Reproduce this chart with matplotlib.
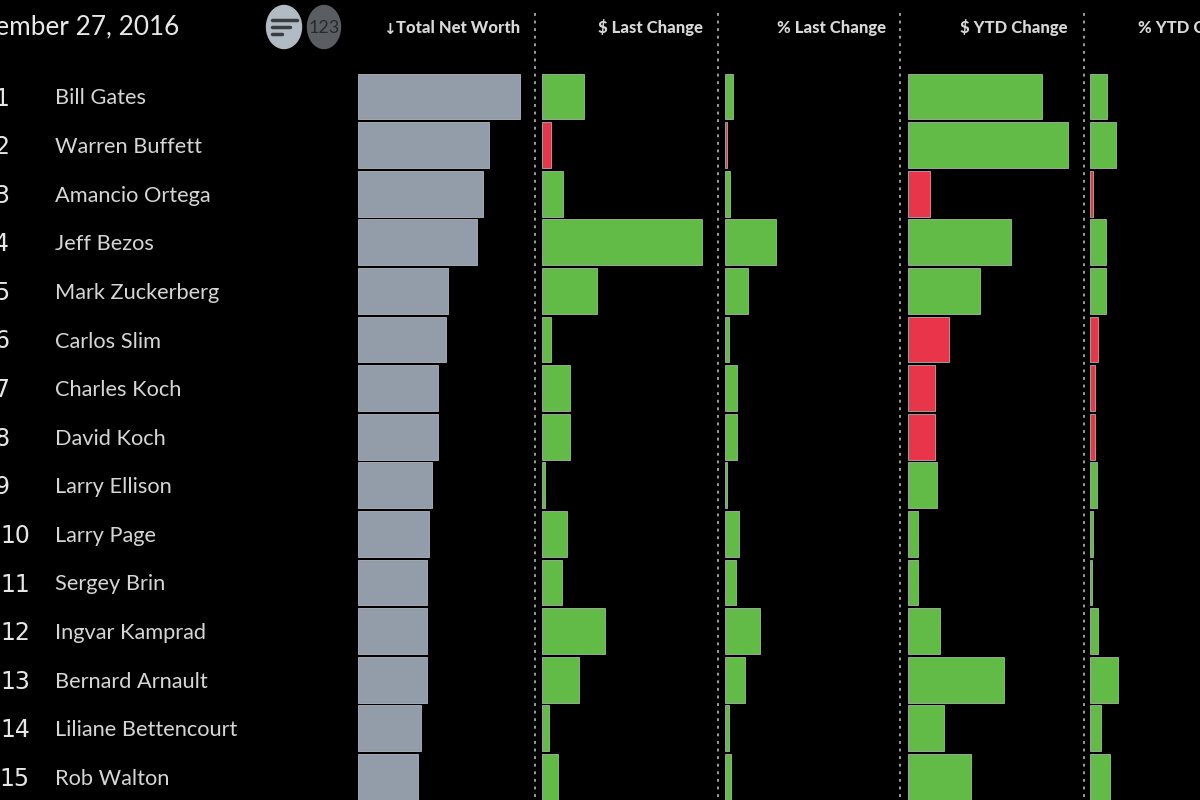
import matplotlib
matplotlib.use("Agg")
import matplotlib.pyplot as plt
from matplotlib.patches import Ellipse

names = ["Bill Gates", "Warren Buffett", "Amancio Ortega", "Jeff Bezos", "Mark Zuckerberg",
         "Carlos Slim", "Charles Koch", "David Koch", "Larry Ellison", "Larry Page",
         "Sergey Brin", "Ingvar Kamprad", "Bernard Arnault", "Liliane Bettencourt", "Rob Walton"]
ranks = list(range(1, 16))
net_worth = [162, 131, 125, 119, 90, 88, 80, 80, 74, 71, 69, 69, 69, 63, 60]
last_change = [42, -9, 21, 160, 55, 9, 28, 28, 3, 25, 20, 63, 37, 7, 16]
pct_last = [8, -2, 5, 51, 23, 4, 12, 12, 2, 14, 11, 35, 20, 4, 6]
ytd_change = [134, 160, -22, 103, 72, -41, -27, -27, 29, 10, 10, 32, 96, 36, 63]
pct_ytd = [17, 26, -3, 16, 16, -8, -5, -5, 7, 3, 2, 8, 28, 11, 20]
headers = ["Total Net Worth", "$ Last Change", "% Last Change", "$ YTD Change", "% YTD Change"]
title = "December 27, 2016"

GREEN, RED, GRAY = "#63bb47", "#e8354a", "#939ca9"
W, H = 1200, 800
fig = plt.figure(figsize=(W / 100, H / 100), dpi=100, facecolor="black")
plt.rcParams["font.family"] = ["Lato", "DejaVu Sans"]

bg = fig.add_axes([0, 0, 1, 1], facecolor="black")
bg.set_xlim(0, W); bg.set_ylim(H, 0); bg.axis("off")

row0, step = 96.5, 48.6
ylim = ((H - row0) / step + 1, (0 - row0) / step + 1)
lefts = [358, 542, 725, 908, 1090]
columns = [net_worth, last_change, pct_last, ytd_change, pct_ytd]
for left, vals in zip(lefts, columns):
    width = W - left
    ax = fig.add_axes([left / W, 0, width / W, 1], facecolor="none")
    ax.set_xlim(0, width); ax.set_ylim(*ylim); ax.axis("off")
    colors = [GRAY if vals is net_worth else (GREEN if v >= 0 else RED) for v in vals]
    ax.barh(ranks, [abs(v) for v in vals], height=0.94, color=colors,
            edgecolor="#a9b3a9" if vals is not net_worth else "#b0b6bf", linewidth=0.6)

for x in [535, 718, 900, 1084]:
    bg.plot([x, x], [13, 800], color="#a8a8a8", lw=1.3, ls=(0, (1.6, 2.6)))

for r, n in zip(ranks, names):
    y = row0 + step * (r - 1)
    bg.text(9 if r < 10 else 30, y + 2, str(r), color="#e6e6e6", fontsize=17, ha="right", va="center", family="DejaVu Sans")
    bg.text(55, y + 2, n, color="#d6d6d6", fontsize=15.7, ha="left", va="center")

bg.text(179, 27, title, color="#e8e8e8", fontsize=18.8, ha="right", va="center")
for x, h in zip([520, 703, 886, 1068, 1250], headers):
    bg.text(x, 28, h, color="#d8d8d8", fontsize=12, fontweight="black", ha="right", va="center")
bg.text(396, 29, "↓", color="#d8d8d8", fontsize=11, fontweight="bold", ha="right", va="center", family="DejaVu Sans")

bg.add_patch(Ellipse((284, 27), 35, 43, color="#b2bac3"))
bg.add_patch(Ellipse((324, 27), 33, 43, color="#5a5d62"))
for x0, x1, y in [(272, 297, 20), (272, 290, 27), (272, 282, 34)]:
    bg.plot([x0, x1], [y, y], color="#3a3d42", lw=2.5, solid_capstyle="round")
bg.text(324, 28, "123", color="#2a2a2d", fontsize=13, ha="center", va="center")

fig.savefig("out.png", dpi=100, facecolor="black")
